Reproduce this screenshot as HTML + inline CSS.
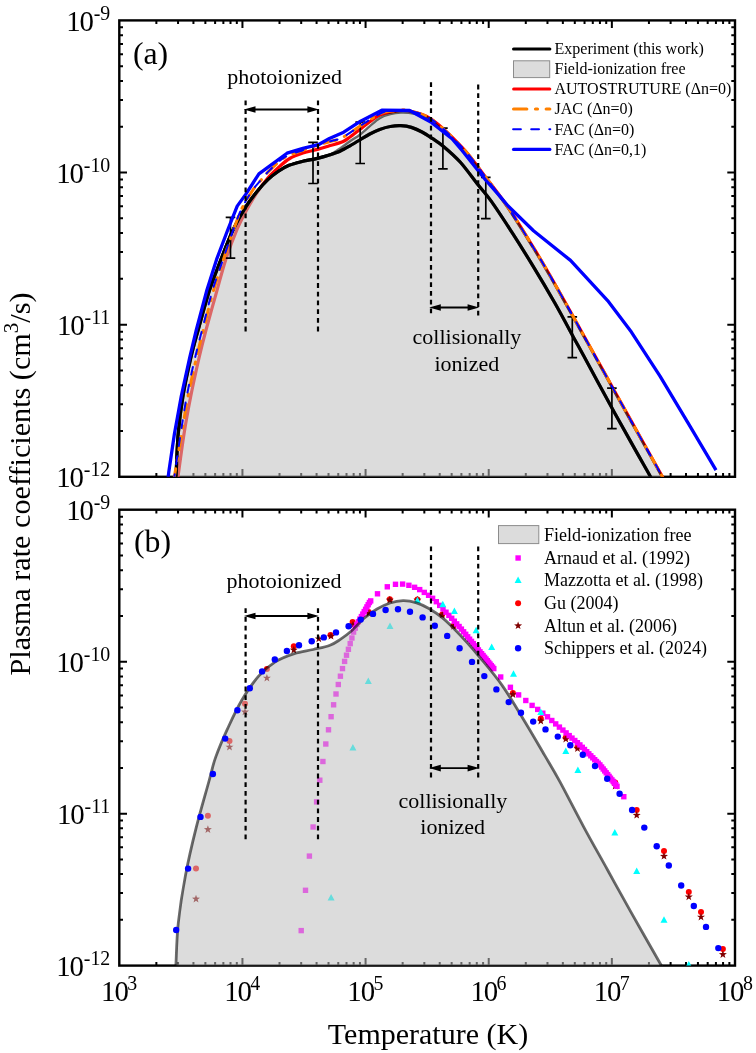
<!DOCTYPE html>
<html lang="en"><head><meta charset="utf-8"><title>Plasma rate coefficients</title>
<style>html,body{margin:0;padding:0;background:#fff}svg{display:block}</style></head>
<body>
<svg width="756" height="1053" viewBox="0 0 756 1053" font-family="'Liberation Serif', 'Times New Roman', serif" fill="#000">
<rect width="756" height="1053" fill="#fff"/>
<defs><clipPath id="ca"><rect x="119.3" y="20.4" width="615.7" height="456.4"/></clipPath><clipPath id="cb"><rect x="119.3" y="509.7" width="615.7" height="455.9"/></clipPath></defs>
<g stroke="#000" stroke-width="2" fill="none"><path d="M156.37 20.40v3.7M156.37 476.80v-3.7"/><path d="M178.05 20.40v3.7M178.05 476.80v-3.7"/><path d="M193.44 20.40v3.7M193.44 476.80v-3.7"/><path d="M205.37 20.40v3.7M205.37 476.80v-3.7"/><path d="M215.12 20.40v3.7M215.12 476.80v-3.7"/><path d="M223.37 20.40v3.7M223.37 476.80v-3.7"/><path d="M230.51 20.40v3.7M230.51 476.80v-3.7"/><path d="M236.81 20.40v3.7M236.81 476.80v-3.7"/><path d="M242.44 20.40v7.7M242.44 476.80v-7.7"/><path d="M279.51 20.40v3.7M279.51 476.80v-3.7"/><path d="M301.19 20.40v3.7M301.19 476.80v-3.7"/><path d="M316.58 20.40v3.7M316.58 476.80v-3.7"/><path d="M328.51 20.40v3.7M328.51 476.80v-3.7"/><path d="M338.26 20.40v3.7M338.26 476.80v-3.7"/><path d="M346.51 20.40v3.7M346.51 476.80v-3.7"/><path d="M353.65 20.40v3.7M353.65 476.80v-3.7"/><path d="M359.95 20.40v3.7M359.95 476.80v-3.7"/><path d="M365.58 20.40v7.7M365.58 476.80v-7.7"/><path d="M402.65 20.40v3.7M402.65 476.80v-3.7"/><path d="M424.33 20.40v3.7M424.33 476.80v-3.7"/><path d="M439.72 20.40v3.7M439.72 476.80v-3.7"/><path d="M451.65 20.40v3.7M451.65 476.80v-3.7"/><path d="M461.40 20.40v3.7M461.40 476.80v-3.7"/><path d="M469.65 20.40v3.7M469.65 476.80v-3.7"/><path d="M476.79 20.40v3.7M476.79 476.80v-3.7"/><path d="M483.09 20.40v3.7M483.09 476.80v-3.7"/><path d="M488.72 20.40v7.7M488.72 476.80v-7.7"/><path d="M525.79 20.40v3.7M525.79 476.80v-3.7"/><path d="M547.47 20.40v3.7M547.47 476.80v-3.7"/><path d="M562.86 20.40v3.7M562.86 476.80v-3.7"/><path d="M574.79 20.40v3.7M574.79 476.80v-3.7"/><path d="M584.54 20.40v3.7M584.54 476.80v-3.7"/><path d="M592.79 20.40v3.7M592.79 476.80v-3.7"/><path d="M599.93 20.40v3.7M599.93 476.80v-3.7"/><path d="M606.23 20.40v3.7M606.23 476.80v-3.7"/><path d="M611.86 20.40v7.7M611.86 476.80v-7.7"/><path d="M648.93 20.40v3.7M648.93 476.80v-3.7"/><path d="M670.61 20.40v3.7M670.61 476.80v-3.7"/><path d="M686.00 20.40v3.7M686.00 476.80v-3.7"/><path d="M697.93 20.40v3.7M697.93 476.80v-3.7"/><path d="M707.68 20.40v3.7M707.68 476.80v-3.7"/><path d="M715.93 20.40v3.7M715.93 476.80v-3.7"/><path d="M723.07 20.40v3.7M723.07 476.80v-3.7"/><path d="M729.37 20.40v3.7M729.37 476.80v-3.7"/><path d="M119.30 431.00h3.7M735.00 431.00h-3.7"/><path d="M119.30 404.21h3.7M735.00 404.21h-3.7"/><path d="M119.30 385.21h3.7M735.00 385.21h-3.7"/><path d="M119.30 370.46h3.7M735.00 370.46h-3.7"/><path d="M119.30 358.42h3.7M735.00 358.42h-3.7"/><path d="M119.30 348.23h3.7M735.00 348.23h-3.7"/><path d="M119.30 339.41h3.7M735.00 339.41h-3.7"/><path d="M119.30 331.63h3.7M735.00 331.63h-3.7"/><path d="M119.30 324.67h7.7M735.00 324.67h-7.7"/><path d="M119.30 278.87h3.7M735.00 278.87h-3.7"/><path d="M119.30 252.08h3.7M735.00 252.08h-3.7"/><path d="M119.30 233.07h3.7M735.00 233.07h-3.7"/><path d="M119.30 218.33h3.7M735.00 218.33h-3.7"/><path d="M119.30 206.28h3.7M735.00 206.28h-3.7"/><path d="M119.30 196.10h3.7M735.00 196.10h-3.7"/><path d="M119.30 187.28h3.7M735.00 187.28h-3.7"/><path d="M119.30 179.49h3.7M735.00 179.49h-3.7"/><path d="M119.30 172.53h7.7M735.00 172.53h-7.7"/><path d="M119.30 126.74h3.7M735.00 126.74h-3.7"/><path d="M119.30 99.95h3.7M735.00 99.95h-3.7"/><path d="M119.30 80.94h3.7M735.00 80.94h-3.7"/><path d="M119.30 66.20h3.7M735.00 66.20h-3.7"/><path d="M119.30 54.15h3.7M735.00 54.15h-3.7"/><path d="M119.30 43.97h3.7M735.00 43.97h-3.7"/><path d="M119.30 35.14h3.7M735.00 35.14h-3.7"/><path d="M119.30 27.36h3.7M735.00 27.36h-3.7"/></g>
<rect x="119.30" y="20.40" width="615.70" height="456.40" fill="none" stroke="#000" stroke-width="2.4"/>
<g clip-path="url(#ca)" fill="none" stroke-linejoin="round">
<path d="M177.6 480.0 C177.7 479.4 176.9 484.2 178.0 476.5 C179.1 468.8 181.9 447.4 184.0 434.0 C186.1 420.6 188.3 408.7 190.8 396.0 C193.3 383.3 196.5 369.0 199.0 358.0 C201.5 347.0 203.0 341.1 206.0 330.0 C209.0 318.9 213.5 302.9 216.8 291.1 C220.1 279.3 222.5 269.6 225.8 259.4 C229.1 249.2 233.4 238.2 236.8 230.0 C240.2 221.8 243.1 216.6 246.5 210.3 C249.9 204.0 253.7 197.4 257.3 192.0 C260.9 186.6 264.4 182.1 267.9 178.0 C271.4 173.9 274.9 170.8 278.5 167.5 C282.1 164.2 285.6 160.9 289.7 158.5 C293.8 156.1 298.3 154.6 302.9 153.1 C307.5 151.6 313.1 150.6 317.5 149.4 C321.9 148.2 325.2 147.1 329.4 145.8 C333.6 144.5 339.2 143.3 342.6 141.8 C346.0 140.3 347.1 139.0 350.0 137.0 C352.9 135.0 356.5 132.2 359.8 129.6 C363.1 127.0 366.5 124.1 369.8 121.7 C373.1 119.3 375.5 116.7 379.7 115.0 C383.9 113.3 390.3 112.0 395.0 111.3 C399.7 110.6 402.0 109.5 408.0 110.8 C414.0 112.1 422.1 112.9 431.1 119.0 C440.2 125.1 453.2 137.9 462.3 147.6 C471.4 157.3 478.0 167.2 485.6 177.2 C493.2 187.2 500.1 195.8 508.1 207.5 C516.1 219.2 525.7 235.0 533.5 247.7 C541.3 260.4 546.3 269.0 554.7 283.7 C563.1 298.4 575.0 319.9 583.8 335.7 C592.6 351.5 599.7 364.3 607.6 378.6 C615.5 392.9 622.3 405.0 631.4 421.4 C640.5 437.8 657.0 466.9 662.4 476.7 C667.8 486.5 663.7 479.4 664.0 480.0" stroke="#f00" stroke-width="3.2"/>
<path d="M175.4 480.0 C175.5 479.4 175.5 484.2 176.0 476.5 C176.5 468.8 177.0 447.4 178.2 434.0 C179.4 420.6 180.9 408.7 183.0 396.0 C185.1 383.3 188.3 369.0 190.8 358.0 C193.3 347.0 195.1 341.1 198.2 330.0 C201.3 318.9 205.5 302.9 209.3 291.1 C213.1 279.3 217.1 269.6 221.0 259.4 C224.9 249.2 228.9 238.7 233.0 230.0 C237.1 221.3 241.6 213.5 245.7 207.1 C249.8 200.7 253.6 195.9 257.3 191.3 C261.0 186.7 264.4 182.9 267.9 179.6 C271.4 176.2 275.0 173.6 278.5 171.2 C282.0 168.8 285.0 167.0 289.1 165.3 C293.2 163.7 298.2 162.5 302.9 161.3 C307.6 160.2 313.1 159.5 317.5 158.4 C321.9 157.3 325.6 156.2 329.4 155.0 C333.1 153.8 336.6 152.7 340.0 151.2 C343.4 149.7 346.6 147.8 349.9 145.9 C353.2 144.0 356.5 142.0 359.8 140.0 C363.1 138.0 366.5 135.8 369.8 134.0 C373.1 132.2 376.3 130.7 379.7 129.4 C383.1 128.2 386.8 127.1 390.3 126.5 C393.8 125.9 397.3 125.5 400.8 125.7 C404.3 125.9 407.9 126.4 411.4 127.4 C414.9 128.5 418.5 130.1 422.0 132.0 C425.5 133.9 429.0 136.3 432.6 138.7 C436.2 141.1 438.9 142.6 443.5 146.5 C448.1 150.4 454.8 156.1 460.4 162.3 C466.0 168.6 472.3 177.5 477.4 184.0 C482.5 190.5 485.4 193.0 491.2 201.2 C497.0 209.3 505.2 222.0 512.3 232.9 C519.3 243.8 526.4 255.2 533.5 266.8 C540.6 278.4 548.0 291.0 554.7 302.8 C561.4 314.6 568.9 328.8 573.7 337.7 C578.6 346.6 578.1 345.6 583.8 356.0 C589.4 366.4 599.7 385.5 607.6 400.0 C615.5 414.5 624.2 430.1 631.4 442.9 C638.5 455.7 647.1 470.5 650.5 476.7 C653.9 482.9 651.8 479.4 652.0 480.0" stroke="#000" stroke-width="3.2"/>
<path d="M175.4 480.0 C175.5 479.4 175.5 484.2 176.0 476.5 C176.5 468.8 177.0 447.4 178.2 434.0 C179.4 420.6 180.9 408.7 183.0 396.0 C185.1 383.3 188.3 369.0 190.8 358.0 C193.3 347.0 195.1 341.1 198.2 330.0 C201.3 318.9 205.5 302.9 209.3 291.1 C213.1 279.3 217.1 269.6 221.0 259.4 C224.9 249.2 228.9 238.7 233.0 230.0 C237.1 221.3 241.6 213.5 245.7 207.1 C249.8 200.7 253.6 195.9 257.3 191.3 C261.0 186.7 264.4 182.9 267.9 179.6 C271.4 176.2 275.0 173.6 278.5 171.2 C282.0 168.8 285.0 167.0 289.1 165.3 C293.2 163.7 298.2 162.5 302.9 161.3 C307.6 160.2 313.1 159.5 317.5 158.4 C321.9 157.3 325.6 156.7 329.4 155.0 C333.1 153.3 336.6 150.8 340.0 148.5 C343.4 146.2 346.6 143.6 349.9 141.3 C353.2 139.0 356.5 137.2 359.8 134.7 C363.1 132.2 366.5 128.9 369.8 126.1 C373.1 123.3 376.3 120.1 379.7 118.1 C383.1 116.1 386.8 115.1 390.3 114.2 C393.8 113.3 397.7 112.8 400.8 112.6 C403.9 112.4 405.6 112.5 408.8 112.9 C412.0 113.3 416.3 114.0 420.0 115.2 C423.7 116.4 424.1 114.4 431.1 119.9 C438.2 125.5 453.2 138.8 462.3 148.5 C471.4 158.2 478.0 168.1 485.6 178.1 C493.2 188.1 500.1 196.7 508.1 208.4 C516.1 220.2 525.7 235.9 533.5 248.6 C541.3 261.3 546.3 269.9 554.7 284.6 C563.1 299.3 575.0 320.8 583.8 336.6 C592.6 352.4 599.7 365.2 607.6 379.5 C615.5 393.8 622.3 405.9 631.4 422.3 C640.5 438.6 657.0 467.8 662.4 477.6 C667.8 487.4 663.7 480.3 664.0 480.9 L664.0 476.8 L175.4 476.8 Z" fill="rgba(190,190,190,0.54)" stroke="none"/>
<path d="M175.4 480.0 C175.5 479.4 175.5 484.2 176.0 476.5 C176.5 468.8 177.0 447.4 178.2 434.0 C179.4 420.6 180.9 408.7 183.0 396.0 C185.1 383.3 188.3 369.0 190.8 358.0 C193.3 347.0 195.1 341.1 198.2 330.0 C201.3 318.9 205.5 302.9 209.3 291.1 C213.1 279.3 217.1 269.6 221.0 259.4 C224.9 249.2 228.9 238.7 233.0 230.0 C237.1 221.3 241.6 213.5 245.7 207.1 C249.8 200.7 253.6 195.9 257.3 191.3 C261.0 186.7 264.4 182.9 267.9 179.6 C271.4 176.2 275.0 173.6 278.5 171.2 C282.0 168.8 285.0 167.0 289.1 165.3 C293.2 163.7 298.2 162.5 302.9 161.3 C307.6 160.2 313.1 159.5 317.5 158.4 C321.9 157.3 325.6 156.7 329.4 155.0 C333.1 153.3 336.6 150.8 340.0 148.5 C343.4 146.2 346.6 143.6 349.9 141.3 C353.2 139.0 356.5 137.2 359.8 134.7 C363.1 132.2 366.5 128.9 369.8 126.1 C373.1 123.3 376.3 120.1 379.7 118.1 C383.1 116.1 386.8 115.1 390.3 114.2 C393.8 113.3 397.7 112.8 400.8 112.6 C403.9 112.4 405.6 112.5 408.8 112.9 C412.0 113.3 416.3 114.0 420.0 115.2 C423.7 116.4 424.1 114.4 431.1 119.9 C438.2 125.5 453.2 138.8 462.3 148.5 C471.4 158.2 478.0 168.1 485.6 178.1 C493.2 188.1 500.1 196.7 508.1 208.4 C516.1 220.2 525.7 235.9 533.5 248.6 C541.3 261.3 546.3 269.9 554.7 284.6 C563.1 299.3 575.0 320.8 583.8 336.6 C592.6 352.4 599.7 365.2 607.6 379.5 C615.5 393.8 622.3 405.9 631.4 422.3 C640.5 438.6 657.0 467.8 662.4 477.6 C667.8 487.4 663.7 480.3 664.0 480.9" stroke="rgba(0,0,0,0.56)" stroke-width="2.4"/>
<path d="M175.4 480.0 C175.5 479.4 175.5 484.2 176.0 476.5 C176.5 468.8 177.0 447.4 178.2 434.0 C179.4 420.6 180.9 408.7 183.0 396.0 C185.1 383.3 188.3 369.0 190.8 358.0 C193.3 347.0 195.1 341.1 198.2 330.0 C201.3 318.9 205.5 302.9 209.3 291.1 C213.1 279.3 217.1 269.6 221.0 259.4 C224.9 249.2 228.9 238.7 233.0 230.0 C237.1 221.3 241.6 213.5 245.7 207.1 C249.8 200.7 253.6 195.9 257.3 191.3 C261.0 186.7 264.4 182.9 267.9 179.6 C271.4 176.2 275.0 173.6 278.5 171.2 C282.0 168.8 285.0 167.0 289.1 165.3 C293.2 163.7 298.2 162.5 302.9 161.3 C307.6 160.2 313.1 159.5 317.5 158.4 C321.9 157.3 325.6 156.2 329.4 155.0 C333.1 153.8 336.6 152.7 340.0 151.2 C343.4 149.7 346.6 147.8 349.9 145.9 C353.2 144.0 356.5 142.0 359.8 140.0 C363.1 138.0 366.5 135.8 369.8 134.0 C373.1 132.2 376.3 130.7 379.7 129.4 C383.1 128.2 386.8 127.1 390.3 126.5 C393.8 125.9 397.3 125.5 400.8 125.7 C404.3 125.9 407.9 126.4 411.4 127.4 C414.9 128.5 418.5 130.1 422.0 132.0 C425.5 133.9 429.0 136.3 432.6 138.7 C436.2 141.1 438.9 142.6 443.5 146.5 C448.1 150.4 454.8 156.1 460.4 162.3 C466.0 168.6 472.3 177.5 477.4 184.0 C482.5 190.5 485.4 193.0 491.2 201.2 C497.0 209.3 505.2 222.0 512.3 232.9 C519.3 243.8 526.4 255.2 533.5 266.8 C540.6 278.4 548.0 291.0 554.7 302.8 C561.4 314.6 568.9 328.8 573.7 337.7 C578.6 346.6 578.1 345.6 583.8 356.0 C589.4 366.4 599.7 385.5 607.6 400.0 C615.5 414.5 624.2 430.1 631.4 442.9 C638.5 455.7 647.1 470.5 650.5 476.7 C653.9 482.9 651.8 479.4 652.0 480.0" stroke="#000" stroke-width="3.2"/>
<path d="M230.5 217.3V258.1M225.7 217.3h9.6M225.7 258.1h9.6M313.0 142.4V183.5M308.2 142.4h9.6M308.2 183.5h9.6M360.2 122.2V163.5M355.4 122.2h9.6M355.4 163.5h9.6M442.9 128.1V168.9M438.1 128.1h9.6M438.1 168.9h9.6M485.8 177.4V218.7M481.0 177.4h9.6M481.0 218.7h9.6M572.3 316.9V357.6M567.5 316.9h9.6M567.5 357.6h9.6M611.9 388.1V428.6M607.1 388.1h9.6M607.1 428.6h9.6" stroke="#000" stroke-width="1.7" fill="none"/>
<path d="M174.0 480.0 C174.1 479.4 173.1 484.2 174.4 476.5 C175.7 468.8 179.3 447.4 181.6 434.0 C183.9 420.6 185.5 408.7 188.0 396.0 C190.5 383.3 193.8 369.0 196.4 358.0 C199.0 347.0 200.5 341.1 203.3 330.0 C206.1 318.9 209.9 302.9 213.3 291.1 C216.7 279.3 220.1 269.6 223.5 259.4 C226.9 249.2 230.5 238.3 233.5 230.0 C236.5 221.7 238.4 215.8 241.5 209.3 C244.6 202.9 248.8 196.1 252.0 191.3 C255.2 186.5 257.5 184.2 260.5 180.7 C263.5 177.2 265.9 174.0 270.0 170.1 C274.1 166.2 279.3 160.7 284.8 157.4 C290.3 154.1 297.4 152.5 302.9 150.4 C308.3 148.3 313.1 146.5 317.5 145.1 C321.9 143.7 325.2 143.1 329.4 141.8 C333.6 140.5 337.4 140.2 342.6 137.5 C347.8 134.8 354.1 129.9 360.6 125.8 C367.1 121.7 376.1 115.5 381.8 113.0 C387.5 110.5 390.6 111.2 395.0 110.8 C399.4 110.4 402.0 109.2 408.0 110.6 C414.0 112.0 422.1 112.8 431.1 119.0 C440.2 125.2 453.2 137.9 462.3 147.6 C471.4 157.3 478.0 167.2 485.6 177.2 C493.2 187.2 500.1 195.8 508.1 207.5 C516.1 219.2 525.7 235.0 533.5 247.7 C541.3 260.4 546.3 269.0 554.7 283.7 C563.1 298.4 575.0 319.9 583.8 335.7 C592.6 351.5 599.7 364.3 607.6 378.6 C615.5 392.9 622.3 405.0 631.4 421.4 C640.5 437.8 657.0 466.9 662.4 476.7 C667.8 486.5 663.7 479.4 664.0 480.0" stroke="#ff8000" stroke-width="3" stroke-linecap="round" stroke-dasharray="13.2 8.7 2 8.7"/>
<path d="M174.0 480.0 C174.1 479.4 173.3 484.2 174.4 476.5 C175.5 468.8 178.5 447.4 180.6 434.0 C182.7 420.6 184.4 408.7 186.8 396.0 C189.2 383.3 192.4 369.0 195.0 358.0 C197.6 347.0 199.2 341.1 202.1 330.0 C205.0 318.9 208.8 302.9 212.3 291.1 C215.8 279.3 219.6 269.6 223.1 259.4 C226.6 249.2 230.2 238.3 233.2 230.0 C236.2 221.7 238.2 215.8 241.3 209.3 C244.4 202.9 248.6 196.1 251.8 191.3 C255.0 186.5 257.3 184.2 260.3 180.7 C263.3 177.2 265.7 174.0 269.8 170.1 C273.9 166.2 279.3 160.5 284.8 157.2 C290.3 153.9 297.4 152.2 302.9 150.2 C308.3 148.2 313.1 146.4 317.5 145.0 C321.9 143.6 325.2 142.9 329.4 141.6 C333.6 140.3 337.4 140.0 342.6 137.3 C347.8 134.6 354.1 129.7 360.6 125.6 C367.1 121.5 376.1 115.3 381.8 112.8 C387.5 110.3 390.6 111.1 395.0 110.7 C399.4 110.3 402.0 109.2 408.0 110.6 C414.0 112.0 422.1 112.8 431.1 119.0 C440.2 125.2 453.2 137.9 462.3 147.6 C471.4 157.3 478.0 167.2 485.6 177.2 C493.2 187.2 500.1 195.8 508.1 207.5 C516.1 219.2 525.7 235.0 533.5 247.7 C541.3 260.4 546.3 269.0 554.7 283.7 C563.1 298.4 575.0 319.9 583.8 335.7 C592.6 351.5 599.7 364.3 607.6 378.6 C615.5 392.9 622.3 405.0 631.4 421.4 C640.5 437.8 657.0 466.9 662.4 476.7 C667.8 486.5 663.7 479.4 664.0 480.0" stroke="#00f" stroke-width="2" stroke-linecap="round" stroke-dasharray="7.8 10.3"/>
<path d="M167.8 480.0 L168.8 472.0 L174.4 434.0 L181.3 396.0 L189.6 358.0 L196.3 330.0 L206.6 291.1 L216.6 259.4 L227.7 230.0 L237.2 206.1 L245.7 194.4 L258.9 173.8 L274.3 162.7 L287.0 153.2 L302.9 148.4 L318.3 144.7 L329.4 138.5 L343.7 132.2 L360.6 121.2 L381.8 110.2 L409.6 110.5 L430.8 122.0 L452.0 138.7 L462.3 150.8 L477.4 169.8 L485.6 180.0 L498.5 194.6 L508.1 206.0 L533.5 230.8 L570.5 260.4 L607.6 300.6 L631.4 332.1 L660.0 376.2 L688.6 423.8 L716.0 470.2" stroke="#00f" stroke-width="3.3"/>
</g>
<g stroke="#000" stroke-width="2.2" stroke-dasharray="4.8 3.9" fill="none"><path d="M245.6 100.4V333.0"/><path d="M318 100.4V333.0"/><path d="M431 82.2V315.0"/><path d="M478.2 84.6V317.0"/></g><path d="M248.9 109.5H314.0" stroke="#000" stroke-width="1.9"/><path d="M243.9 109.5l11.6 -3.3v6.6zM319.0 109.5l-11.6 -3.3v6.6z" fill="#000"/><path d="M434.2 307.5H474.2" stroke="#000" stroke-width="1.9"/><path d="M429.2 307.5l11.6 -3.3v6.6zM479.2 307.5l-11.6 -3.3v6.6z" fill="#000"/><g font-size="22" text-anchor="middle"><text x="284.6" y="84.3">photoionized</text><text x="467.0" y="343.5">collisionally</text><text x="466.8" y="370.7">ionized</text></g>
<text x="132.9" y="63.6" font-size="31.8">(a)</text>
<g font-size="16">
<text x="554.5" y="54.3">Experiment (this work)</text>
<text x="554.5" y="74.2">Field-ionization free</text>
<text x="554.5" y="94.2">AUTOSTRUTURE (Δn=0)</text>
<text x="554.5" y="114.3">JAC (Δn=0)</text>
<text x="554.5" y="134.5">FAC (Δn=0)</text>
<text x="554.5" y="154.7">FAC (Δn=0,1)</text>
</g>
<g fill="none">
<path d="M513.6 49H549.8" stroke="#000" stroke-width="3.2" stroke-linecap="round"/>
<rect x="513.5" y="60.8" width="36.2" height="16.8" fill="#dcdcdc" stroke="#8c8c8c" stroke-width="1"/>
<path d="M513.6 88.9H549.8" stroke="#f00" stroke-width="3" stroke-linecap="round"/>
<path d="M513.6 109H549.8" stroke="#ff8000" stroke-width="3.2" stroke-linecap="round" stroke-dasharray="13.2 8.7 2 8.7"/>
<path d="M513.1 129.2H550.3" stroke="#00f" stroke-width="2" stroke-linecap="round" stroke-dasharray="7.8 10.3"/>
<path d="M513.6 149.4H549.8" stroke="#00f" stroke-width="3.3" stroke-linecap="round"/>
</g>
<g stroke="#000" stroke-width="2" fill="none"><path d="M156.37 509.70v3.7M156.37 965.60v-3.7"/><path d="M178.05 509.70v3.7M178.05 965.60v-3.7"/><path d="M193.44 509.70v3.7M193.44 965.60v-3.7"/><path d="M205.37 509.70v3.7M205.37 965.60v-3.7"/><path d="M215.12 509.70v3.7M215.12 965.60v-3.7"/><path d="M223.37 509.70v3.7M223.37 965.60v-3.7"/><path d="M230.51 509.70v3.7M230.51 965.60v-3.7"/><path d="M236.81 509.70v3.7M236.81 965.60v-3.7"/><path d="M242.44 509.70v7.7M242.44 965.60v-7.7"/><path d="M279.51 509.70v3.7M279.51 965.60v-3.7"/><path d="M301.19 509.70v3.7M301.19 965.60v-3.7"/><path d="M316.58 509.70v3.7M316.58 965.60v-3.7"/><path d="M328.51 509.70v3.7M328.51 965.60v-3.7"/><path d="M338.26 509.70v3.7M338.26 965.60v-3.7"/><path d="M346.51 509.70v3.7M346.51 965.60v-3.7"/><path d="M353.65 509.70v3.7M353.65 965.60v-3.7"/><path d="M359.95 509.70v3.7M359.95 965.60v-3.7"/><path d="M365.58 509.70v7.7M365.58 965.60v-7.7"/><path d="M402.65 509.70v3.7M402.65 965.60v-3.7"/><path d="M424.33 509.70v3.7M424.33 965.60v-3.7"/><path d="M439.72 509.70v3.7M439.72 965.60v-3.7"/><path d="M451.65 509.70v3.7M451.65 965.60v-3.7"/><path d="M461.40 509.70v3.7M461.40 965.60v-3.7"/><path d="M469.65 509.70v3.7M469.65 965.60v-3.7"/><path d="M476.79 509.70v3.7M476.79 965.60v-3.7"/><path d="M483.09 509.70v3.7M483.09 965.60v-3.7"/><path d="M488.72 509.70v7.7M488.72 965.60v-7.7"/><path d="M525.79 509.70v3.7M525.79 965.60v-3.7"/><path d="M547.47 509.70v3.7M547.47 965.60v-3.7"/><path d="M562.86 509.70v3.7M562.86 965.60v-3.7"/><path d="M574.79 509.70v3.7M574.79 965.60v-3.7"/><path d="M584.54 509.70v3.7M584.54 965.60v-3.7"/><path d="M592.79 509.70v3.7M592.79 965.60v-3.7"/><path d="M599.93 509.70v3.7M599.93 965.60v-3.7"/><path d="M606.23 509.70v3.7M606.23 965.60v-3.7"/><path d="M611.86 509.70v7.7M611.86 965.60v-7.7"/><path d="M648.93 509.70v3.7M648.93 965.60v-3.7"/><path d="M670.61 509.70v3.7M670.61 965.60v-3.7"/><path d="M686.00 509.70v3.7M686.00 965.60v-3.7"/><path d="M697.93 509.70v3.7M697.93 965.60v-3.7"/><path d="M707.68 509.70v3.7M707.68 965.60v-3.7"/><path d="M715.93 509.70v3.7M715.93 965.60v-3.7"/><path d="M723.07 509.70v3.7M723.07 965.60v-3.7"/><path d="M729.37 509.70v3.7M729.37 965.60v-3.7"/><path d="M119.30 919.85h3.7M735.00 919.85h-3.7"/><path d="M119.30 893.09h3.7M735.00 893.09h-3.7"/><path d="M119.30 874.11h3.7M735.00 874.11h-3.7"/><path d="M119.30 859.38h3.7M735.00 859.38h-3.7"/><path d="M119.30 847.35h3.7M735.00 847.35h-3.7"/><path d="M119.30 837.17h3.7M735.00 837.17h-3.7"/><path d="M119.30 828.36h3.7M735.00 828.36h-3.7"/><path d="M119.30 820.59h3.7M735.00 820.59h-3.7"/><path d="M119.30 813.63h7.7M735.00 813.63h-7.7"/><path d="M119.30 767.89h3.7M735.00 767.89h-3.7"/><path d="M119.30 741.13h3.7M735.00 741.13h-3.7"/><path d="M119.30 722.14h3.7M735.00 722.14h-3.7"/><path d="M119.30 707.41h3.7M735.00 707.41h-3.7"/><path d="M119.30 695.38h3.7M735.00 695.38h-3.7"/><path d="M119.30 685.21h3.7M735.00 685.21h-3.7"/><path d="M119.30 676.39h3.7M735.00 676.39h-3.7"/><path d="M119.30 668.62h3.7M735.00 668.62h-3.7"/><path d="M119.30 661.67h7.7M735.00 661.67h-7.7"/><path d="M119.30 615.92h3.7M735.00 615.92h-3.7"/><path d="M119.30 589.16h3.7M735.00 589.16h-3.7"/><path d="M119.30 570.17h3.7M735.00 570.17h-3.7"/><path d="M119.30 555.45h3.7M735.00 555.45h-3.7"/><path d="M119.30 543.41h3.7M735.00 543.41h-3.7"/><path d="M119.30 533.24h3.7M735.00 533.24h-3.7"/><path d="M119.30 524.43h3.7M735.00 524.43h-3.7"/><path d="M119.30 516.65h3.7M735.00 516.65h-3.7"/></g>
<rect x="119.30" y="509.70" width="615.70" height="455.90" fill="none" stroke="#000" stroke-width="2.4"/>
<g clip-path="url(#cb)">
<g fill="#f00"><circle cx="196.0" cy="868.6" r="3"/><circle cx="207.9" cy="815.7" r="3"/><circle cx="229.5" cy="741.0" r="3"/><circle cx="245.0" cy="703.8" r="3"/><circle cx="266.9" cy="669.0" r="3"/><circle cx="293.8" cy="646.2" r="3"/><circle cx="330.5" cy="635.0" r="3"/><circle cx="352.6" cy="622.0" r="3"/><circle cx="368.7" cy="611.9" r="3"/><circle cx="389.8" cy="599.3" r="3"/><circle cx="417.4" cy="599.4" r="3"/><circle cx="442.2" cy="614.6" r="3"/><circle cx="453.3" cy="626.1" r="3"/><circle cx="512.9" cy="693.0" r="3"/><circle cx="540.8" cy="718.4" r="3"/><circle cx="565.8" cy="737.5" r="3"/><circle cx="577.5" cy="747.0" r="3"/><circle cx="615.2" cy="782.5" r="3"/><circle cx="636.7" cy="810.0" r="3"/><circle cx="664.0" cy="851.0" r="3"/><circle cx="688.8" cy="891.9" r="3"/><circle cx="701.0" cy="912.1" r="3"/><circle cx="722.9" cy="949.0" r="3"/></g>
<path d="M196.0 894.8L197.0 897.6L200.0 897.7L197.6 899.5L198.5 902.4L196.0 900.7L193.5 902.4L194.4 899.5L192.0 897.7L195.0 897.6zM207.9 825.3L208.9 828.1L211.9 828.2L209.5 830.0L210.4 832.9L207.9 831.2L205.4 832.9L206.3 830.0L203.9 828.2L206.9 828.1zM229.5 742.9L230.5 745.7L233.5 745.8L231.1 747.6L232.0 750.5L229.5 748.8L227.0 750.5L227.9 747.6L225.5 745.8L228.5 745.7zM245.0 707.7L246.0 710.5L249.0 710.6L246.6 712.4L247.5 715.3L245.0 713.6L242.5 715.3L243.4 712.4L241.0 710.6L244.0 710.5zM266.9 673.9L267.9 676.7L270.9 676.8L268.5 678.6L269.4 681.5L266.9 679.8L264.4 681.5L265.3 678.6L262.9 676.8L265.9 676.7zM293.8 645.8L294.8 648.6L297.8 648.7L295.4 650.5L296.3 653.4L293.8 651.7L291.3 653.4L292.2 650.5L289.8 648.7L292.8 648.6zM318.8 634.6L319.8 637.4L322.8 637.5L320.4 639.3L321.3 642.2L318.8 640.5L316.3 642.2L317.2 639.3L314.8 637.5L317.8 637.4zM331.0 632.0L332.0 634.8L335.0 634.9L332.6 636.7L333.5 639.6L331.0 637.9L328.5 639.6L329.4 636.7L327.0 634.9L330.0 634.8zM353.0 620.8L354.0 623.6L357.0 623.7L354.6 625.5L355.5 628.4L353.0 626.7L350.5 628.4L351.4 625.5L349.0 623.7L352.0 623.6zM368.7 609.3L369.7 612.1L372.7 612.2L370.3 614.0L371.2 616.9L368.7 615.2L366.2 616.9L367.1 614.0L364.7 612.2L367.7 612.1zM389.8 595.8L390.8 598.6L393.8 598.7L391.4 600.5L392.3 603.4L389.8 601.7L387.3 603.4L388.2 600.5L385.8 598.7L388.8 598.6zM417.4 595.8L418.4 598.6L421.4 598.7L419.0 600.5L419.9 603.4L417.4 601.7L414.9 603.4L415.8 600.5L413.4 598.7L416.4 598.6zM442.2 610.8L443.2 613.6L446.2 613.7L443.8 615.5L444.7 618.4L442.2 616.7L439.7 618.4L440.6 615.5L438.2 613.7L441.2 613.6zM453.3 622.3L454.3 625.1L457.3 625.2L454.9 627.0L455.8 629.9L453.3 628.2L450.8 629.9L451.7 627.0L449.3 625.2L452.3 625.1zM512.9 690.3L513.9 693.1L516.9 693.2L514.5 695.0L515.4 697.9L512.9 696.2L510.4 697.9L511.3 695.0L508.9 693.2L511.9 693.1zM540.8 716.8L541.8 719.6L544.8 719.7L542.4 721.5L543.3 724.4L540.8 722.7L538.3 724.4L539.2 721.5L536.8 719.7L539.8 719.6zM565.8 734.8L566.8 737.6L569.8 737.7L567.4 739.5L568.3 742.4L565.8 740.7L563.3 742.4L564.2 739.5L561.8 737.7L564.8 737.6zM577.5 744.3L578.5 747.1L581.5 747.2L579.1 749.0L580.0 751.9L577.5 750.2L575.0 751.9L575.9 749.0L573.5 747.2L576.5 747.1zM615.2 781.8L616.2 784.6L619.2 784.7L616.8 786.5L617.7 789.4L615.2 787.7L612.7 789.4L613.6 786.5L611.2 784.7L614.2 784.6zM636.7 811.0L637.7 813.8L640.7 813.9L638.3 815.7L639.2 818.6L636.7 816.9L634.2 818.6L635.1 815.7L632.7 813.9L635.7 813.8zM664.0 852.0L665.0 854.8L668.0 854.9L665.6 856.7L666.5 859.6L664.0 857.9L661.5 859.6L662.4 856.7L660.0 854.9L663.0 854.8zM688.8 892.7L689.8 895.5L692.8 895.6L690.4 897.4L691.3 900.3L688.8 898.6L686.3 900.3L687.2 897.4L684.8 895.6L687.8 895.5zM701.0 912.9L702.0 915.7L705.0 915.8L702.6 917.6L703.5 920.5L701.0 918.8L698.5 920.5L699.4 917.6L697.0 915.8L700.0 915.7zM722.9 950.3L723.9 953.1L726.9 953.2L724.5 955.0L725.4 957.9L722.9 956.2L720.4 957.9L721.3 955.0L718.9 953.2L721.9 953.1z" fill="#800000"/>
<g fill="#f0f"><rect x="298.5" y="927.9" width="5.4" height="5.4"/><rect x="302.8" y="887.6" width="5.4" height="5.4"/><rect x="306.7" y="853.4" width="5.4" height="5.4"/><rect x="310.4" y="824.3" width="5.4" height="5.4"/><rect x="313.9" y="799.2" width="5.4" height="5.4"/><rect x="317.1" y="777.5" width="5.4" height="5.4"/><rect x="320.2" y="758.8" width="5.4" height="5.4"/><rect x="323.1" y="741.3" width="5.4" height="5.4"/><rect x="325.8" y="727.1" width="5.4" height="5.4"/><rect x="328.4" y="714.0" width="5.4" height="5.4"/><rect x="330.9" y="702.1" width="5.4" height="5.4"/><rect x="333.3" y="691.3" width="5.4" height="5.4"/><rect x="335.6" y="681.8" width="5.4" height="5.4"/><rect x="337.7" y="673.5" width="5.4" height="5.4"/><rect x="339.8" y="665.9" width="5.4" height="5.4"/><rect x="341.9" y="658.7" width="5.4" height="5.4"/><rect x="343.8" y="652.5" width="5.4" height="5.4"/><rect x="345.7" y="646.6" width="5.4" height="5.4"/><rect x="347.5" y="640.9" width="5.4" height="5.4"/><rect x="349.2" y="635.3" width="5.4" height="5.4"/><rect x="350.9" y="629.4" width="5.4" height="5.4"/><rect x="352.6" y="625.4" width="5.4" height="5.4"/><rect x="354.2" y="621.8" width="5.4" height="5.4"/><rect x="355.7" y="619.1" width="5.4" height="5.4"/><rect x="357.2" y="616.4" width="5.4" height="5.4"/><rect x="358.7" y="613.9" width="5.4" height="5.4"/><rect x="360.1" y="611.4" width="5.4" height="5.4"/><rect x="361.5" y="608.9" width="5.4" height="5.4"/><rect x="362.9" y="606.6" width="5.4" height="5.4"/><rect x="364.2" y="604.2" width="5.4" height="5.4"/><rect x="365.5" y="602.0" width="5.4" height="5.4"/><rect x="366.7" y="599.8" width="5.4" height="5.4"/><rect x="368.0" y="598.2" width="5.4" height="5.4"/><rect x="374.8" y="591.1" width="5.4" height="5.4"/><rect x="384.6" y="584.1" width="5.4" height="5.4"/><rect x="392.8" y="581.6" width="5.4" height="5.4"/><rect x="399.9" y="581.4" width="5.4" height="5.4"/><rect x="406.2" y="582.6" width="5.4" height="5.4"/><rect x="411.9" y="584.6" width="5.4" height="5.4"/><rect x="417.0" y="586.9" width="5.4" height="5.4"/><rect x="421.6" y="589.7" width="5.4" height="5.4"/><rect x="425.9" y="592.6" width="5.4" height="5.4"/><rect x="429.9" y="595.6" width="5.4" height="5.4"/><rect x="433.6" y="599.0" width="5.4" height="5.4"/><rect x="437.0" y="602.7" width="5.4" height="5.4"/><rect x="440.3" y="606.2" width="5.4" height="5.4"/><rect x="443.3" y="609.5" width="5.4" height="5.4"/><rect x="446.2" y="612.7" width="5.4" height="5.4"/><rect x="449.0" y="615.6" width="5.4" height="5.4"/><rect x="451.6" y="618.5" width="5.4" height="5.4"/><rect x="454.0" y="621.2" width="5.4" height="5.4"/><rect x="456.4" y="623.8" width="5.4" height="5.4"/><rect x="458.7" y="626.4" width="5.4" height="5.4"/><rect x="460.9" y="629.1" width="5.4" height="5.4"/><rect x="463.0" y="631.6" width="5.4" height="5.4"/><rect x="465.0" y="634.1" width="5.4" height="5.4"/><rect x="466.9" y="636.5" width="5.4" height="5.4"/><rect x="468.8" y="638.7" width="5.4" height="5.4"/><rect x="470.6" y="640.9" width="5.4" height="5.4"/><rect x="472.4" y="643.1" width="5.4" height="5.4"/><rect x="474.1" y="645.2" width="5.4" height="5.4"/><rect x="475.7" y="647.2" width="5.4" height="5.4"/><rect x="477.3" y="649.1" width="5.4" height="5.4"/><rect x="478.9" y="651.0" width="5.4" height="5.4"/><rect x="480.4" y="652.8" width="5.4" height="5.4"/><rect x="481.9" y="654.6" width="5.4" height="5.4"/><rect x="483.3" y="656.3" width="5.4" height="5.4"/><rect x="484.7" y="658.0" width="5.4" height="5.4"/><rect x="486.0" y="659.7" width="5.4" height="5.4"/><rect x="487.3" y="661.3" width="5.4" height="5.4"/><rect x="488.6" y="662.9" width="5.4" height="5.4"/><rect x="489.9" y="664.4" width="5.4" height="5.4"/><rect x="491.1" y="665.9" width="5.4" height="5.4"/><rect x="498.0" y="674.3" width="5.4" height="5.4"/><rect x="507.7" y="684.6" width="5.4" height="5.4"/><rect x="515.9" y="692.2" width="5.4" height="5.4"/><rect x="523.1" y="697.8" width="5.4" height="5.4"/><rect x="529.4" y="702.7" width="5.4" height="5.4"/><rect x="535.0" y="706.7" width="5.4" height="5.4"/><rect x="540.1" y="710.5" width="5.4" height="5.4"/><rect x="544.8" y="714.1" width="5.4" height="5.4"/><rect x="549.1" y="717.8" width="5.4" height="5.4"/><rect x="553.0" y="721.2" width="5.4" height="5.4"/><rect x="556.7" y="724.4" width="5.4" height="5.4"/><rect x="560.2" y="727.4" width="5.4" height="5.4"/><rect x="563.4" y="730.2" width="5.4" height="5.4"/><rect x="566.5" y="732.9" width="5.4" height="5.4"/><rect x="569.3" y="735.4" width="5.4" height="5.4"/><rect x="572.1" y="737.8" width="5.4" height="5.4"/><rect x="574.7" y="740.0" width="5.4" height="5.4"/><rect x="577.2" y="742.2" width="5.4" height="5.4"/><rect x="579.6" y="744.6" width="5.4" height="5.4"/><rect x="581.8" y="746.8" width="5.4" height="5.4"/><rect x="584.0" y="749.0" width="5.4" height="5.4"/><rect x="586.1" y="751.1" width="5.4" height="5.4"/><rect x="588.1" y="753.1" width="5.4" height="5.4"/><rect x="590.1" y="755.1" width="5.4" height="5.4"/><rect x="592.0" y="757.0" width="5.4" height="5.4"/><rect x="593.8" y="758.8" width="5.4" height="5.4"/><rect x="595.5" y="760.5" width="5.4" height="5.4"/><rect x="597.2" y="762.2" width="5.4" height="5.4"/><rect x="598.9" y="764.3" width="5.4" height="5.4"/><rect x="600.5" y="766.3" width="5.4" height="5.4"/><rect x="602.0" y="768.2" width="5.4" height="5.4"/><rect x="603.5" y="770.1" width="5.4" height="5.4"/><rect x="605.0" y="771.9" width="5.4" height="5.4"/><rect x="606.4" y="773.7" width="5.4" height="5.4"/><rect x="607.8" y="775.5" width="5.4" height="5.4"/><rect x="609.2" y="777.2" width="5.4" height="5.4"/><rect x="610.5" y="778.8" width="5.4" height="5.4"/><rect x="611.8" y="780.4" width="5.4" height="5.4"/><rect x="613.0" y="782.0" width="5.4" height="5.4"/><rect x="614.3" y="783.6" width="5.4" height="5.4"/><rect x="621.1" y="794.0" width="5.4" height="5.4"/></g>
<path d="M331.1 893.9l3.5 6.5h-7.0zM352.9 743.9l3.5 6.5h-7.0zM368.3 677.6l3.5 6.5h-7.0zM390.0 622.4l3.5 6.5h-7.0zM417.4 596.7l3.5 6.5h-7.0zM442.8 600.7l3.5 6.5h-7.0zM454.4 607.6l3.5 6.5h-7.0zM476.1 626.7l3.5 6.5h-7.0zM491.7 643.4l3.5 6.5h-7.0zM513.5 670.3l3.5 6.5h-7.0zM540.8 708.4l3.5 6.5h-7.0zM565.8 747.5l3.5 6.5h-7.0zM577.9 766.6l3.5 6.5h-7.0zM614.8 828.9l3.5 6.5h-7.0zM636.7 867.5l3.5 6.5h-7.0zM664.0 916.3l3.5 6.5h-7.0zM688.8 961.1l3.5 6.5h-7.0z" fill="#0ff"/>
<path d="M175.6 969.0 C175.7 968.0 175.6 971.0 176.0 963.3 C176.4 955.6 176.7 937.6 178.3 922.9 C179.9 908.2 182.5 891.1 185.5 875.2 C188.5 859.3 192.2 843.5 196.2 827.6 C200.2 811.7 206.1 791.8 209.3 780.0 C212.6 768.2 212.6 765.7 215.7 757.1 C218.8 748.5 223.2 738.1 227.6 728.6 C232.0 719.1 236.7 708.7 241.9 700.0 C247.1 691.3 253.1 682.6 258.6 676.2 C264.2 669.9 269.2 665.7 275.2 661.9 C281.1 658.1 287.9 655.7 294.3 653.6 C300.7 651.5 307.4 650.9 313.3 649.5 C319.2 648.1 325.6 646.9 330.0 645.2 C334.4 643.6 336.5 641.9 340.0 639.6 C343.5 637.3 347.1 634.8 351.1 631.3 C355.1 627.8 359.8 622.0 364.1 618.3 C368.4 614.6 372.7 611.5 377.0 609.0 C381.3 606.5 385.7 604.4 390.0 603.0 C394.3 601.6 398.7 600.8 403.0 600.7 C407.3 600.6 411.6 601.3 415.9 602.6 C420.2 603.9 424.6 606.0 428.9 608.5 C433.2 611.0 437.6 613.9 441.9 617.4 C446.2 620.9 450.5 625.1 454.8 629.4 C459.1 633.7 463.6 638.6 467.8 643.3 C472.0 648.0 474.2 650.5 480.0 657.5 C485.8 664.5 495.1 675.3 502.3 685.6 C509.6 695.9 516.4 707.9 523.5 719.5 C530.6 731.1 538.6 745.0 544.7 755.4 C550.8 765.8 553.5 769.9 560.0 781.9 C566.5 793.9 575.9 812.4 583.8 827.1 C591.7 841.8 599.7 855.7 607.6 870.0 C615.5 884.3 622.5 897.0 631.4 912.9 C640.3 928.8 655.9 955.9 661.2 965.2 C666.5 974.6 662.7 968.4 663.0 969.0 L663.0 965.6 L175.6 965.6 Z" fill="rgba(190,190,190,0.54)" stroke="none"/>
<path d="M175.6 969.0 C175.7 968.0 175.6 971.0 176.0 963.3 C176.4 955.6 176.7 937.6 178.3 922.9 C179.9 908.2 182.5 891.1 185.5 875.2 C188.5 859.3 192.2 843.5 196.2 827.6 C200.2 811.7 206.1 791.8 209.3 780.0 C212.6 768.2 212.6 765.7 215.7 757.1 C218.8 748.5 223.2 738.1 227.6 728.6 C232.0 719.1 236.7 708.7 241.9 700.0 C247.1 691.3 253.1 682.6 258.6 676.2 C264.2 669.9 269.2 665.7 275.2 661.9 C281.1 658.1 287.9 655.7 294.3 653.6 C300.7 651.5 307.4 650.9 313.3 649.5 C319.2 648.1 325.6 646.9 330.0 645.2 C334.4 643.6 336.5 641.9 340.0 639.6 C343.5 637.3 347.1 634.8 351.1 631.3 C355.1 627.8 359.8 622.0 364.1 618.3 C368.4 614.6 372.7 611.5 377.0 609.0 C381.3 606.5 385.7 604.4 390.0 603.0 C394.3 601.6 398.7 600.8 403.0 600.7 C407.3 600.6 411.6 601.3 415.9 602.6 C420.2 603.9 424.6 606.0 428.9 608.5 C433.2 611.0 437.6 613.9 441.9 617.4 C446.2 620.9 450.5 625.1 454.8 629.4 C459.1 633.7 463.6 638.6 467.8 643.3 C472.0 648.0 474.2 650.5 480.0 657.5 C485.8 664.5 495.1 675.3 502.3 685.6 C509.6 695.9 516.4 707.9 523.5 719.5 C530.6 731.1 538.6 745.0 544.7 755.4 C550.8 765.8 553.5 769.9 560.0 781.9 C566.5 793.9 575.9 812.4 583.8 827.1 C591.7 841.8 599.7 855.7 607.6 870.0 C615.5 884.3 622.5 897.0 631.4 912.9 C640.3 928.8 655.9 955.9 661.2 965.2 C666.5 974.6 662.7 968.4 663.0 969.0" stroke="rgba(0,0,0,0.58)" stroke-width="2.8" fill="none"/>
<g fill="#00f"><circle cx="163.9" cy="995.0" r="3.2"/><circle cx="176.2" cy="930.0" r="3.2"/><circle cx="188.1" cy="868.6" r="3.2"/><circle cx="200.5" cy="816.9" r="3.2"/><circle cx="212.9" cy="774.0" r="3.2"/><circle cx="225.2" cy="738.6" r="3.2"/><circle cx="237.4" cy="710.2" r="3.2"/><circle cx="249.8" cy="688.3" r="3.2"/><circle cx="262.1" cy="671.4" r="3.2"/><circle cx="274.8" cy="659.5" r="3.2"/><circle cx="286.9" cy="651.0" r="3.2"/><circle cx="299.0" cy="645.2" r="3.2"/><circle cx="311.7" cy="641.2" r="3.2"/><circle cx="323.8" cy="637.4" r="3.2"/><circle cx="336.0" cy="632.4" r="3.2"/><circle cx="348.6" cy="626.2" r="3.2"/><circle cx="360.7" cy="619.6" r="3.2"/><circle cx="373.0" cy="613.9" r="3.2"/><circle cx="385.6" cy="610.0" r="3.2"/><circle cx="398.0" cy="609.3" r="3.2"/><circle cx="410.0" cy="611.7" r="3.2"/><circle cx="422.6" cy="617.4" r="3.2"/><circle cx="434.8" cy="625.7" r="3.2"/><circle cx="447.2" cy="635.9" r="3.2"/><circle cx="459.6" cy="648.2" r="3.2"/><circle cx="472.0" cy="661.9" r="3.2"/><circle cx="484.3" cy="676.1" r="3.2"/><circle cx="496.4" cy="689.4" r="3.2"/><circle cx="508.7" cy="702.1" r="3.2"/><circle cx="521.0" cy="712.7" r="3.2"/><circle cx="533.2" cy="721.6" r="3.2"/><circle cx="545.5" cy="729.4" r="3.2"/><circle cx="557.8" cy="736.6" r="3.2"/><circle cx="570.3" cy="745.3" r="3.2"/><circle cx="582.8" cy="754.8" r="3.2"/><circle cx="595.0" cy="766.0" r="3.2"/><circle cx="607.2" cy="778.8" r="3.2"/><circle cx="619.6" cy="793.8" r="3.2"/><circle cx="632.1" cy="810.0" r="3.2"/><circle cx="644.3" cy="827.6" r="3.2"/><circle cx="656.7" cy="846.2" r="3.2"/><circle cx="668.8" cy="865.5" r="3.2"/><circle cx="681.2" cy="885.5" r="3.2"/><circle cx="693.8" cy="906.0" r="3.2"/><circle cx="706.0" cy="926.9" r="3.2"/><circle cx="718.3" cy="948.1" r="3.2"/></g>
</g>
<g stroke="#000" stroke-width="2.2" stroke-dasharray="4.8 3.9" fill="none"><path d="M245.6 608.3V839.5"/><path d="M318 608.3V839.5"/><path d="M431 546.4V779.8"/><path d="M478.2 546.4V779.8"/></g><path d="M248.9 616.0H314.0" stroke="#000" stroke-width="1.9"/><path d="M243.9 616.0l11.6 -3.3v6.6zM319.0 616.0l-11.6 -3.3v6.6z" fill="#000"/><path d="M434.2 768.1H474.2" stroke="#000" stroke-width="1.9"/><path d="M429.2 768.1l11.6 -3.3v6.6zM479.2 768.1l-11.6 -3.3v6.6z" fill="#000"/><g font-size="22" text-anchor="middle"><text x="284.0" y="587.9">photoionized</text><text x="452.9" y="807.6">collisionally</text><text x="452.7" y="834.1">ionized</text></g>
<text x="133.9" y="552" font-size="31.8">(b)</text>
<rect x="498.5" y="525.6" width="40.3" height="18" fill="#dcdcdc" stroke="#8c8c8c" stroke-width="1"/>
<g font-size="18">
<text x="544" y="540.6">Field-ionization free</text>
<text x="544" y="563.8">Arnaud et al. (1992)</text>
<text x="544" y="586.1">Mazzotta et al. (1998)</text>
<text x="544" y="609.0">Gu (2004)</text>
<text x="544" y="631.5">Altun et al. (2006)</text>
<text x="544" y="654.0">Schippers et al. (2024)</text>
</g>
<rect x="515.4" y="555.3" width="5.4" height="5.4" fill="#f0f"/>
<path d="M518.1 576.6l3.5 6.5h-7.0z" fill="#0ff"/>
<circle cx="518.1" cy="603.2" r="3" fill="#f00"/>
<path d="M518.1 621.5L519.1 624.3L522.1 624.4L519.7 626.2L520.6 629.1L518.1 627.4L515.6 629.1L516.5 626.2L514.1 624.4L517.1 624.3z" fill="#800000"/>
<circle cx="518.1" cy="648.2" r="3.2" fill="#00f"/>
<text x="110.3" y="30.8" font-size="28.8" text-anchor="end"><tspan letter-spacing="-1">10</tspan><tspan font-size="19.9" dx="0.8" dy="-10.9">-9</tspan></text>
<text x="110.3" y="520.1" font-size="28.8" text-anchor="end"><tspan letter-spacing="-1">10</tspan><tspan font-size="19.9" dx="0.8" dy="-10.9">-9</tspan></text>
<text x="110.3" y="182.9" font-size="28.8" text-anchor="end"><tspan letter-spacing="-1">10</tspan><tspan font-size="19.9" dx="0.8" dy="-10.9">-10</tspan></text>
<text x="110.3" y="672.1" font-size="28.8" text-anchor="end"><tspan letter-spacing="-1">10</tspan><tspan font-size="19.9" dx="0.8" dy="-10.9">-10</tspan></text>
<text x="110.3" y="335.1" font-size="28.8" text-anchor="end"><tspan letter-spacing="-1">10</tspan><tspan font-size="19.9" dx="0.8" dy="-10.9">-11</tspan></text>
<text x="110.3" y="824.0" font-size="28.8" text-anchor="end"><tspan letter-spacing="-1">10</tspan><tspan font-size="19.9" dx="0.8" dy="-10.9">-11</tspan></text>
<text x="110.3" y="487.2" font-size="28.8" text-anchor="end"><tspan letter-spacing="-1">10</tspan><tspan font-size="19.9" dx="0.8" dy="-10.9">-12</tspan></text>
<text x="110.3" y="976.0" font-size="28.8" text-anchor="end"><tspan letter-spacing="-1">10</tspan><tspan font-size="19.9" dx="0.8" dy="-10.9">-12</tspan></text>
<text x="119.1" y="1001.3" font-size="28.8" text-anchor="middle"><tspan letter-spacing="-1">10</tspan><tspan font-size="19.9" dx="-0.6" dy="-10.9">3</tspan></text>
<text x="242.2" y="1001.3" font-size="28.8" text-anchor="middle"><tspan letter-spacing="-1">10</tspan><tspan font-size="19.9" dx="-0.6" dy="-10.9">4</tspan></text>
<text x="365.4" y="1001.3" font-size="28.8" text-anchor="middle"><tspan letter-spacing="-1">10</tspan><tspan font-size="19.9" dx="-0.6" dy="-10.9">5</tspan></text>
<text x="488.5" y="1001.3" font-size="28.8" text-anchor="middle"><tspan letter-spacing="-1">10</tspan><tspan font-size="19.9" dx="-0.6" dy="-10.9">6</tspan></text>
<text x="611.7" y="1001.3" font-size="28.8" text-anchor="middle"><tspan letter-spacing="-1">10</tspan><tspan font-size="19.9" dx="-0.6" dy="-10.9">7</tspan></text>
<text x="734.8" y="1001.3" font-size="28.8" text-anchor="middle"><tspan letter-spacing="-1">10</tspan><tspan font-size="19.9" dx="-0.6" dy="-10.9">8</tspan></text>
<text x="428" y="1043.6" font-size="30" text-anchor="middle">Temperature (K)</text>
<text transform="translate(30.2 484) rotate(-90)" font-size="30.2" text-anchor="middle">Plasma rate coefficients (cm<tspan font-size="21" dy="-12">3</tspan><tspan dy="12">/s)</tspan></text>
</svg>
</body></html>
